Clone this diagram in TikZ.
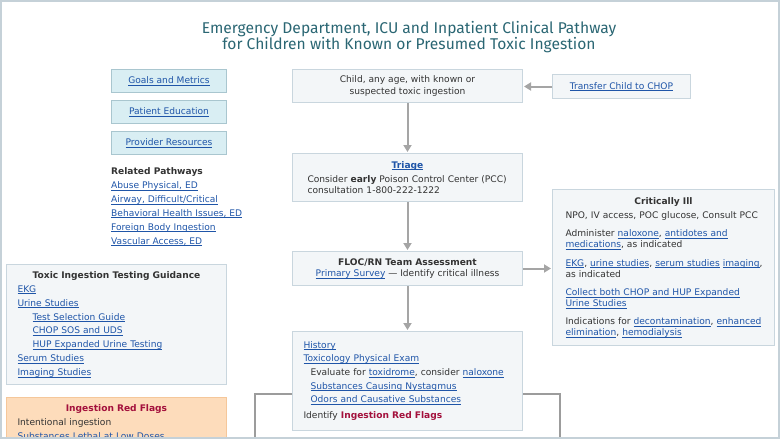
\documentclass[tikz,border=0pt]{standalone}
\usepackage{fontspec}
\setmainfont{DejaVu Sans}
\newfontfamily\titlefont{Fira Sans}
\usetikzlibrary{arrows.meta,positioning}

\definecolor{boxfill}{HTML}{F3F6F8}
\definecolor{boxline}{HTML}{C9D6DE}
\definecolor{navfill}{HTML}{D9EEF3}
\definecolor{navline}{HTML}{A9C6CF}
\definecolor{flagfill}{HTML}{FDDCBB}
\definecolor{flagline}{HTML}{F5C79A}
\definecolor{linkblue}{HTML}{1F55A8}
\definecolor{flagred}{HTML}{A3103C}
\definecolor{titleteal}{HTML}{2A6673}
\definecolor{bodytext}{HTML}{333333}
\definecolor{arrgray}{HTML}{A5A5A5}
\definecolor{linegray}{HTML}{9C9C9C}
\definecolor{framecol}{HTML}{C5D1D8}

\newsavebox{\lnkbox}
\newcommand{\lnk}[1]{\leavevmode{\color{linkblue}\sbox{\lnkbox}{#1}\rlap{\rule[-1.7pt]{\wd\lnkbox}{0.6pt}}\usebox{\lnkbox}}}
\newcommand{\bodysize}{\fontsize{9.1}{11.5}\selectfont}

\begin{document}
\begin{tikzpicture}[x=1pt, y=-1pt,
		panel/.style={draw=boxline, fill=boxfill, line width=1pt, anchor=north west, text=bodytext, font=\bodysize},
		navbox/.style={draw=navline, fill=navfill, line width=1pt, anchor=north west,
			minimum width=115pt, minimum height=23pt, inner sep=0pt, font=\bodysize},
		arr/.style={draw=arrgray, line width=2pt, -{Triangle[length=7pt,width=8pt]}, shorten >=1pt},
		flow/.style={draw=linegray, line width=1.6pt}]
	\useasboundingbox (0,0) rectangle (780,439);

	\node[text=titleteal, align=center, font=\titlefont\fontsize{15.6}{14.6}\selectfont] (title) at (409,37)
		{Emergency Department, ICU and Inpatient Clinical Pathway\\for Children with Known or Presumed Toxic Ingestion};

	\node[navbox] (goals) at (111,69) {\lnk{Goals and Metrics}};
	\node[navbox] (educ) at (111,100) {\lnk{Patient Education}};
	\node[navbox] (prov) at (111,131) {\lnk{Provider Resources}};

	\node[anchor=north west, inner sep=0pt, align=left, text=bodytext, font=\fontsize{9.1}{13.9}\selectfont] (related) at (111,167.5)
		{\textbf{Related Pathways}\\ \lnk{Abuse Physical, ED}\\ \lnk{Airway, Difficult/Critical}\\
		\lnk{Behavioral Health Issues, ED}\\ \lnk{Foreign Body Ingestion}\\ \lnk{Vascular Access, ED}};

	\node[panel, minimum width=220pt, minimum height=120pt, inner xsep=11pt, text width=198pt,
		align=left, font=\fontsize{9.1}{13.86}\selectfont] (testing) at (6,264)
		{{\centering\textbf{Toxic Ingestion Testing Guidance}\par}
		\lnk{EKG}\\ \lnk{Urine Studies}\\
		\hspace*{15pt}\lnk{Test Selection Guide}\\
		\hspace*{15pt}\lnk{CHOP SOS and UDS}\\
		\hspace*{15pt}\lnk{HUP Expanded Urine Testing}\\
		\lnk{Serum Studies}\\ \lnk{Imaging Studies}};

	\begin{scope}
		\clip (0,0) rectangle (780,437);
		\node[panel, draw=flagline, fill=flagfill, minimum width=220pt, inner xsep=11pt, inner ysep=6.6pt,
			text width=198pt, text depth=40pt, align=left, font=\fontsize{9.1}{14}\selectfont] (flags) at (6,397)
			{{\centering\textbf{\textcolor{flagred}{Ingestion Red Flags}}\par}
			Intentional ingestion\\ \lnk{Substances Lethal at Low Doses}};
	\end{scope}

	\node[panel, minimum width=230pt, minimum height=33pt, align=center] (child) at (292,69)
		{Child, any age, with known or\\suspected toxic ingestion};
	\node[panel, minimum width=138pt, minimum height=24pt, inner sep=0pt] (transfer) at (552,74)
		{\lnk{Transfer Child to CHOP}};

	\node[panel, minimum width=230pt, minimum height=48pt, inner xsep=15pt, text width=200pt, align=left] (triage) at (292,153)
		{{\centering\textbf{\lnk{Triage}}\par}\vspace{2.5pt}
		Consider \textbf{early} Poison Control Center (PCC)\\consultation 1-800-222-1222};

	\node[panel, minimum width=230pt, minimum height=34pt, align=center] (floc) at (292,251)
		{\textbf{FLOC/RN Team Assessment}\\ \lnk{Primary Survey} --- Identify critical illness};

	\node[panel, minimum width=230pt, minimum height=99pt, inner xsep=11pt, text width=208pt, align=left,
		font=\fontsize{9.1}{13.7}\selectfont] (hist) at (292,331)
		{\lnk{History}\\ \lnk{Toxicology Physical Exam}\\
		\hspace*{7pt}Evaluate for \lnk{toxidrome}, consider \lnk{naloxone}\\
		\hspace*{7pt}\lnk{Substances Causing Nystagmus}\\
		\hspace*{7pt}\lnk{Odors and Causative Substances}\\[2.3pt]
		Identify \textbf{\textcolor{flagred}{Ingestion Red Flags}}};

	\node[panel, minimum width=222pt, minimum height=156pt, inner xsep=13pt, text width=196pt, align=left,
		font=\fontsize{9.1}{11}\selectfont] (crit) at (552,189)
		{{\centering\textbf{Critically Ill}\par}\vspace{3pt}
		\mbox{NPO, IV access, POC glucose, Consult PCC}\\[7.4pt]
		Administer \lnk{naloxone}, \lnk{antidotes and}\\ \lnk{medications}, as indicated\\[7.4pt]
		\mbox{\lnk{EKG}, \lnk{urine studies}, \lnk{serum studies} \lnk{imaging},}\\ as indicated\\[7.4pt]
		\lnk{Collect both CHOP and HUP Expanded}\\ \lnk{Urine Studies}\\[7.4pt]
		\mbox{Indications for \lnk{decontamination}, \lnk{enhanced}}\\ \lnk{elimination}, \lnk{hemodialysis}};

	\draw[arr] (transfer.west) -- (child.east |- transfer.west);
	\draw[arr] (child) -- (triage);
	\draw[arr] (triage) -- (floc);
	\draw[arr] (floc.east) -- (floc.east -| crit.west);
	\draw[arr] (floc) -- (hist);

	\coordinate (lbend) at (255,394);
	\coordinate (lend) at (255,437);
	\coordinate (rbend) at (560,394);
	\coordinate (rend) at (560,437);
	\draw[flow] (lbend -| hist.west) -- (lbend) -- (lend);
	\draw[flow] (rbend -| hist.east) -- (rbend) -- (rend);

	\draw[framecol, line width=2pt] (1,1) rectangle (778.5,437.5);
\end{tikzpicture}
\end{document}
